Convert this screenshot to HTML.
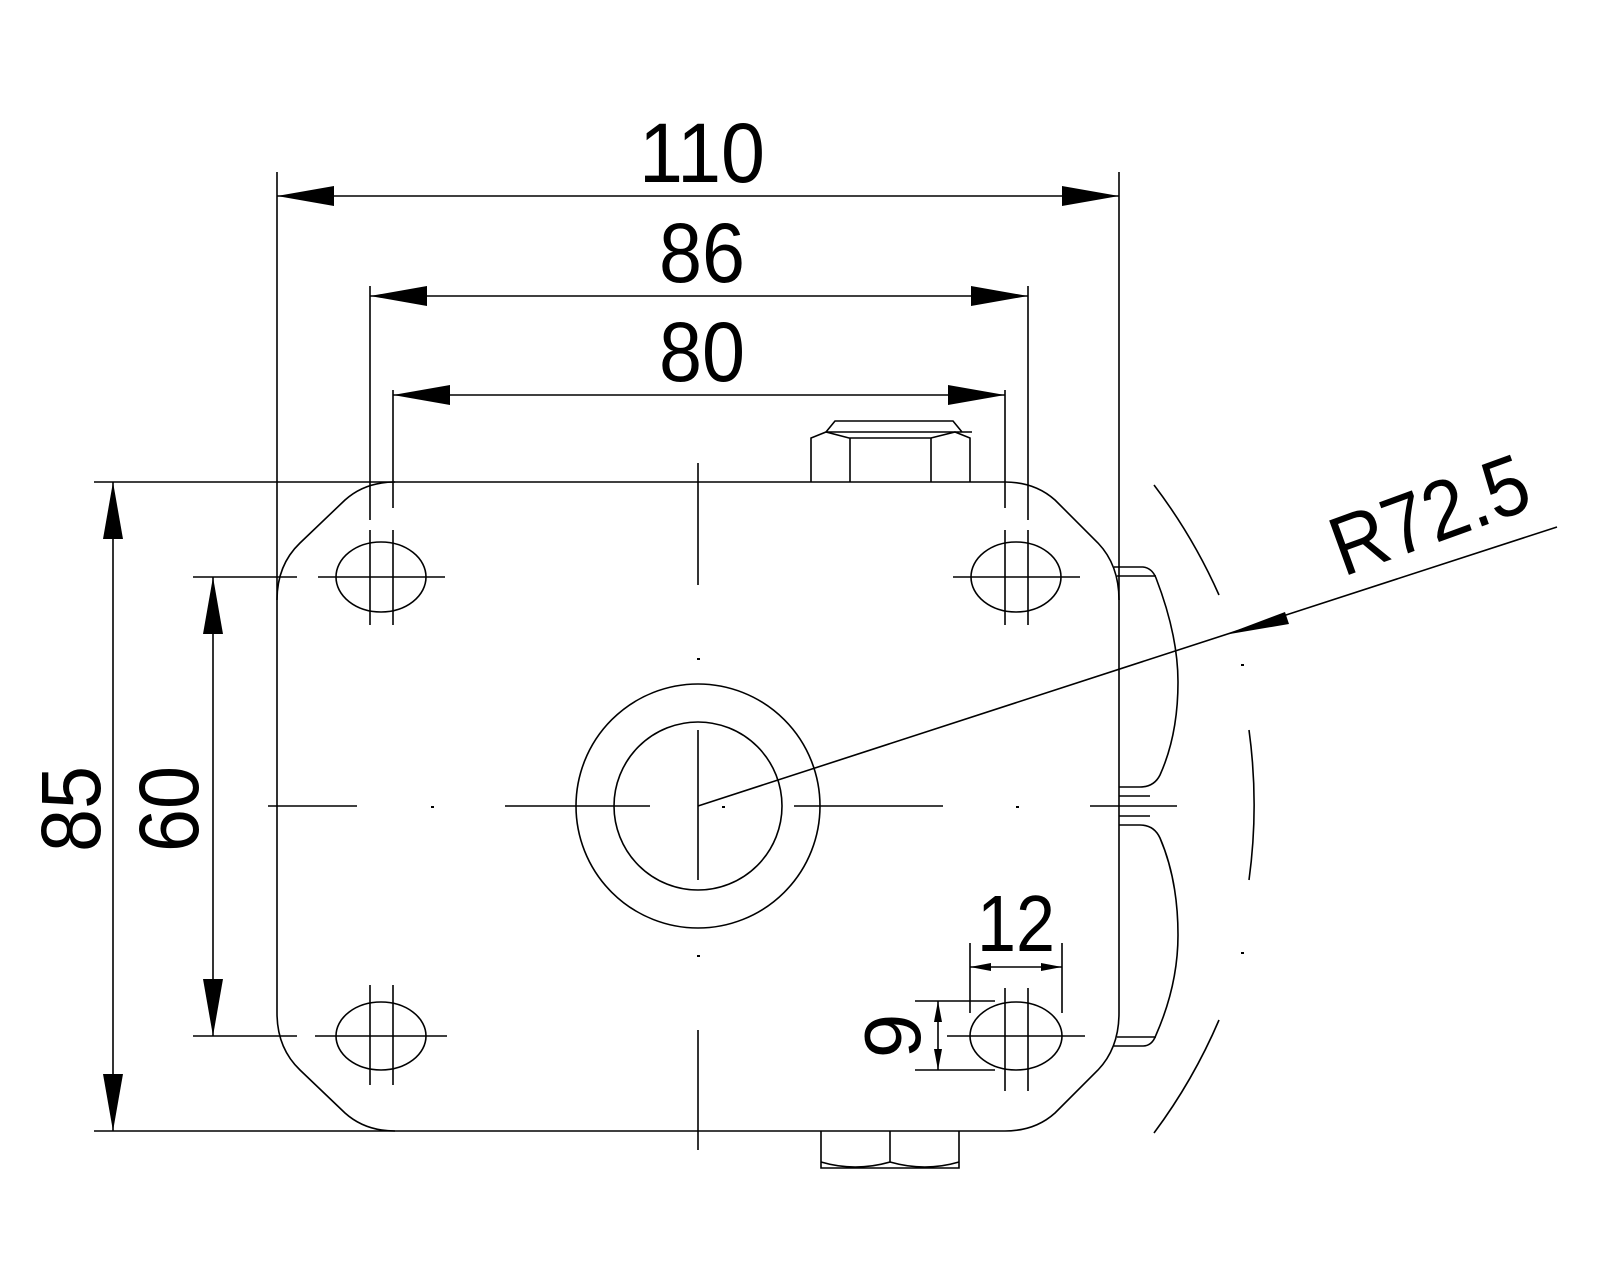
<!DOCTYPE html>
<html><head><meta charset="utf-8"><style>
html,body{margin:0;padding:0;background:#fff;}
svg{display:block;}
text{font-family:"Liberation Sans",sans-serif;fill:#000;}
</style></head><body>
<svg width="1600" height="1280" viewBox="0 0 1600 1280" xmlns="http://www.w3.org/2000/svg">
<g stroke="#000" stroke-width="1.6" fill="none">
<path d="M277,600 Q277,565 300,543 L345,500 Q365,482 395,482 L1005,482 Q1035,482 1055,500 L1098,543 Q1119,565 1119,600 L1119,1013 Q1119,1048 1098,1070 L1055,1113 Q1035,1131 1005,1131 L395,1131 Q365,1131 345,1113 L300,1070 Q277,1048 277,1013 Z"/>
<path d="M811,482 L811,438 L826,432 L849,438 L931,438 L955,432 L970,438 L970,482"/>
<path d="M826,432 L972,432 M826,432 L835,421 L953,421 L962,432"/>
<line x1="850" y1="438" x2="850" y2="482"/><line x1="931" y1="438" x2="931" y2="482"/>
<path d="M821,1131 L821,1168 L959,1168 L959,1131"/>
<line x1="890" y1="1131" x2="890" y2="1162"/>
<path d="M821,1162 Q855,1172 890,1162 Q925,1172 959,1162"/>
<path d="M1114,567 L1143,567 Q1152,568 1156,578 Q1178,635 1178,682 Q1178,735 1160,775 Q1154,787 1140,787 L1119,787"/>
<line x1="1117" y1="576" x2="1156" y2="576"/><line x1="1119" y1="796" x2="1150" y2="796"/>
<path d="M1119,825 L1140,825 Q1154,825 1160,838 Q1178,880 1178,935 Q1178,985 1156,1035 Q1152,1046 1143,1046 L1114,1046"/>
<line x1="1119" y1="816" x2="1150" y2="816"/><line x1="1117" y1="1037" x2="1156" y2="1037"/>
<path d="M1154,485 A553,553 0 0 1 1219,595"/>
<path d="M1249,730 A553,553 0 0 1 1249,880"/>
<path d="M1219,1020 A553,553 0 0 1 1154,1133"/>
<circle cx="698" cy="806" r="122"/>
<circle cx="698" cy="806" r="84"/>
<line x1="698" y1="463" x2="698" y2="585"/>
<line x1="698" y1="730" x2="698" y2="880"/>
<line x1="698" y1="1030" x2="698" y2="1150"/>
<line x1="268" y1="806" x2="357" y2="806"/>
<line x1="505" y1="806" x2="650" y2="806"/>
<line x1="794" y1="806" x2="943" y2="806"/>
<line x1="1090" y1="806" x2="1177" y2="806"/>
<line x1="698" y1="806" x2="1557" y2="527"/>
<ellipse cx="381" cy="577" rx="45" ry="35"/>
<ellipse cx="1016" cy="577" rx="45" ry="35"/>
<ellipse cx="381" cy="1036" rx="45" ry="34"/>
<ellipse cx="1016" cy="1036" rx="46" ry="34"/>
<line x1="370" y1="286" x2="370" y2="520"/><line x1="393" y1="390" x2="393" y2="508"/>
<line x1="370" y1="530" x2="370" y2="625"/><line x1="393" y1="530" x2="393" y2="625"/>
<line x1="1005" y1="390" x2="1005" y2="508"/><line x1="1028" y1="286" x2="1028" y2="520"/>
<line x1="1005" y1="530" x2="1005" y2="625"/><line x1="1028" y1="530" x2="1028" y2="625"/>
<line x1="318" y1="577" x2="445" y2="577"/><line x1="953" y1="577" x2="1080" y2="577"/>
<line x1="370" y1="985" x2="370" y2="1085"/><line x1="393" y1="985" x2="393" y2="1085"/>
<line x1="1005" y1="988" x2="1005" y2="1091"/><line x1="1028" y1="988" x2="1028" y2="1091"/>
<line x1="315" y1="1036" x2="447" y2="1036"/><line x1="947" y1="1036" x2="1085" y2="1036"/>
<line x1="277" y1="172" x2="277" y2="600"/>
<line x1="1119" y1="172" x2="1119" y2="600"/>
<line x1="94" y1="482" x2="395" y2="482"/>
<line x1="94" y1="1131" x2="395" y2="1131"/>
<line x1="193" y1="577" x2="297" y2="577"/>
<line x1="193" y1="1036" x2="297" y2="1036"/>
<line x1="970" y1="943" x2="970" y2="1013"/><line x1="1062" y1="943" x2="1062" y2="1013"/>
<line x1="915" y1="1001" x2="995" y2="1001"/><line x1="915" y1="1070" x2="995" y2="1070"/>
<line x1="277" y1="196" x2="1119" y2="196"/>
<line x1="370" y1="296" x2="1028" y2="296"/>
<line x1="393" y1="395" x2="1005" y2="395"/>
<line x1="113" y1="482" x2="113" y2="1131"/>
<line x1="213" y1="577" x2="213" y2="1036"/>
<line x1="970" y1="967" x2="1062" y2="967"/>
<line x1="938" y1="1001" x2="938" y2="1070"/>
</g>
<g fill="#000">
<polygon points="277,196 334,186 334,206"/><polygon points="1119,196 1062,186 1062,206"/>
<polygon points="370,296 427,286 427,306"/><polygon points="1028,296 971,286 971,306"/>
<polygon points="393,395 450,385 450,405"/><polygon points="1005,395 948,385 948,405"/>
<polygon points="113,482 103,539 123,539"/><polygon points="113,1131 103,1074 123,1074"/>
<polygon points="213,577 203,634 223,634"/><polygon points="213,1036 203,979 223,979"/>
<polygon points="970,967 991,963 991,971"/><polygon points="1062,967 1041,963 1041,971"/>
<polygon points="938,1001 934,1022 942,1022"/><polygon points="938,1070 934,1049 942,1049"/>
<polygon points="1224,635 1285,612 1289,624"/>
<rect x="697" y="658" width="3" height="2"/><rect x="697" y="955" width="3" height="2"/>
<rect x="431" y="806" width="3" height="2"/><rect x="722" y="806" width="3" height="2"/>
<rect x="1016" y="806" width="3" height="2"/><rect x="1241" y="664" width="3" height="2"/><rect x="1241" y="952" width="3" height="2"/>
</g>
<text x="702" y="182" font-size="84" text-anchor="middle" textLength="126" lengthAdjust="spacingAndGlyphs">110</text>
<text x="702" y="282" font-size="84" text-anchor="middle" textLength="86" lengthAdjust="spacingAndGlyphs">86</text>
<text x="702" y="381" font-size="84" text-anchor="middle" textLength="86" lengthAdjust="spacingAndGlyphs">80</text>
<text x="1016" y="951" font-size="80" text-anchor="middle" textLength="78" lengthAdjust="spacingAndGlyphs">12</text>
<text transform="translate(100,809) rotate(-90)" font-size="84" text-anchor="middle" textLength="86" lengthAdjust="spacingAndGlyphs">85</text>
<text transform="translate(198,809) rotate(-90)" font-size="84" text-anchor="middle" textLength="86" lengthAdjust="spacingAndGlyphs">60</text>
<text transform="translate(920,1036) rotate(-90)" font-size="80" text-anchor="middle">9</text>
<text transform="translate(1343,577) rotate(-20)" font-size="84" textLength="205" lengthAdjust="spacingAndGlyphs">R72.5</text>
</svg>
</body></html>
